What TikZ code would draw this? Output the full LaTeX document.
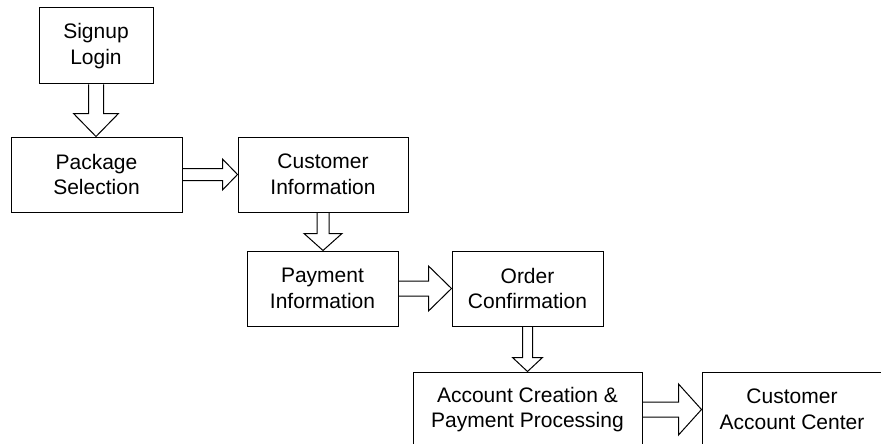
\documentclass[tikz,border=0pt]{standalone}
\usepackage{fontspec}
\setmainfont{Liberation Sans}
\usetikzlibrary{calc}

% block arrow pointing down, from the bottom of #1 to the top of #2
% #3 = half shaft width, #4 = half head width, #5 = head length (all pt)
\newcommand\blockdown[5]{%
  \draw[blk] let \p1=(#1.south), \p2=(#2.north) in
    (\x1-#3pt,\y1) -- (\x1-#3pt,\y2+#5pt) -- (\x1-#4pt,\y2+#5pt) -- (\x1,\y2)
    -- (\x1+#4pt,\y2+#5pt) -- (\x1+#3pt,\y2+#5pt) -- (\x1+#3pt,\y1);}
% block arrow pointing right, from the right side of #1 to the left side of #2
\newcommand\blockright[5]{%
  \draw[blk] let \p1=(#1.east), \p2=(#2.west) in
    (\x1,\y1+#3pt) -- (\x2-#5pt,\y1+#3pt) -- (\x2-#5pt,\y1+#4pt) -- (\x2,\y1)
    -- (\x2-#5pt,\y1-#4pt) -- (\x2-#5pt,\y1-#3pt) -- (\x1,\y1-#3pt);}

\begin{document}
\begin{tikzpicture}[x=1pt,y=-1pt,
  box/.style={draw=black, line width=1pt, rectangle, inner sep=0pt,
    align=center, font=\fontsize{21}{25.5}\selectfont, minimum height=75pt},
  blk/.style={draw=black, line width=1pt, line join=miter}]
  \useasboundingbox (0,0) rectangle (881,444);
  \clip (0,0) rectangle (881,444);

  \node[box, minimum width=114pt, minimum height=76pt] (signup) at (96,46) {Signup\\Login};
  \node[box, minimum width=171pt] (package) at (96.5,174.5) {Package\\Selection};
  \node[box, minimum width=170pt] (customer) at (323,174.5) {Customer\\Information};
  \node[box, minimum width=151pt] (payment) at (322.5,288.5) {Payment\\Information};
  \node[box, minimum width=151pt] (order) at (527.5,288.5) {Order\\Confirmation};
  \node[box, minimum width=229pt] (account) at (527.5,409.5) {Account Creation \&\\Payment Processing};
  \node[box, minimum width=180pt] (center) at (792,409.5) {Customer\\Account Center};

  \blockdown{signup}{package}{7.5}{22.5}{23}
  \blockright{package}{customer}{6}{15.5}{15}
  \blockdown{customer}{payment}{6}{19}{17}
  \blockright{payment}{order}{7.5}{22.5}{23}
  \blockdown{order}{account}{5}{15}{14}
  \blockright{account}{center}{7.5}{25.5}{23}
\end{tikzpicture}
\end{document}
